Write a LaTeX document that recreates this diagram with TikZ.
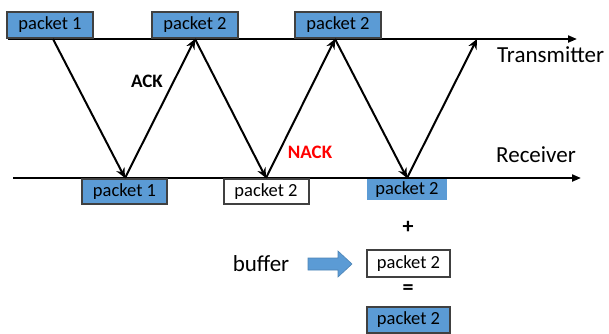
\documentclass[tikz,border=0pt]{standalone}
\usepackage{fontspec}
\setmainfont{Carlito}
\usetikzlibrary{arrows.meta}
\definecolor{pblue}{HTML}{5B9BD5}
\definecolor{pborder}{HTML}{404040}
\tikzset{
  pkt/.style={draw=pborder, line width=2pt, fill=pblue, minimum width=86pt, minimum height=26pt, inner sep=0pt, font=\fontsize{18.5}{20}\selectfont},
  pktw/.style={pkt, fill=white},
  axis/.style={line width=2pt, -{Triangle[length=9pt,width=7pt]}},
  msg/.style={line width=2pt, -{Stealth[length=10pt,width=9pt]}},
  lab/.style={font=\fontsize{23}{25}\selectfont, inner sep=0pt},
  fb/.style={font=\bfseries\fontsize{19}{21}\selectfont, inner sep=0pt},
}
\begin{document}
\begin{tikzpicture}[x=1pt,y=-1pt]
\useasboundingbox (0,0) rectangle (609,333);
% axes
\coordinate (tx0) at (8,39);
\coordinate (tx1) at (577,39);
\coordinate (rx0) at (13,178);
\coordinate (rx1) at (581,178);
\draw[axis] (tx0) -- (tx1);
\draw[axis] (rx0) -- (rx1);
\node[lab, anchor=west] (tlab) at (497,55) {Transmitter};
\node[lab, anchor=west] (rlab) at (496,155) {Receiver};
% top packets
\node[pkt] (p1) at (50,24.5) {packet 1};
\node[pkt] (p2) at (195,24.5) {packet 2};
\node[pkt] (p3) at (338,25) {packet 2};
% bottom packets
\node[pkt, minimum width=85pt, minimum height=25pt] (b1) at (124.5,191.5) {packet 1};
\node[pktw, minimum width=85pt, minimum height=25pt] (b2) at (266,191.5) {packet 2};
\node[pkt, draw=none, minimum width=80pt, minimum height=21pt] (b3) at (407,189.5) {packet 2};
% timing points
\coordinate (t0) at (53,39);
\coordinate (r1) at (125,178);
\coordinate (t1) at (195,39);
\coordinate (r2) at (266,178);
\coordinate (t2) at (335,39);
\coordinate (r3) at (407,178);
\coordinate (t3) at (477,39);
\draw[msg] (t0) -- (r1);
\draw[msg] (r1) -- (t1);
\draw[msg] (t1) -- (r2);
\draw[msg] (r2) -- (t2);
\draw[msg] (t2) -- (r3);
\draw[msg] (r3) -- (t3);
\node[fb] (ack) at (147,81) {ACK};
\node[fb, text=red] (nack) at (310,152) {NACK};
% combining
\node[fb, font=\bfseries\fontsize{22}{24}\selectfont] (plus) at (408,227) {+};
\node[lab] (buf) at (261,264) {buffer};
\node[pktw, minimum width=83pt, minimum height=27pt] (bb) at (408.5,263.5) {packet 2};
\node[fb, font=\bfseries\fontsize{22}{24}\selectfont] (eq) at (408,290) {=};
\node[pkt, minimum width=83pt, minimum height=26pt] (fin) at (408.5,319.5) {packet 2};
\fill[pblue, draw=pblue!85!black, line width=0.6pt]
  (308,258) -- (338,258) -- (338,251) -- (352,264) -- (338,277) -- (338,270) -- (308,270) -- cycle;
\end{tikzpicture}
\end{document}
